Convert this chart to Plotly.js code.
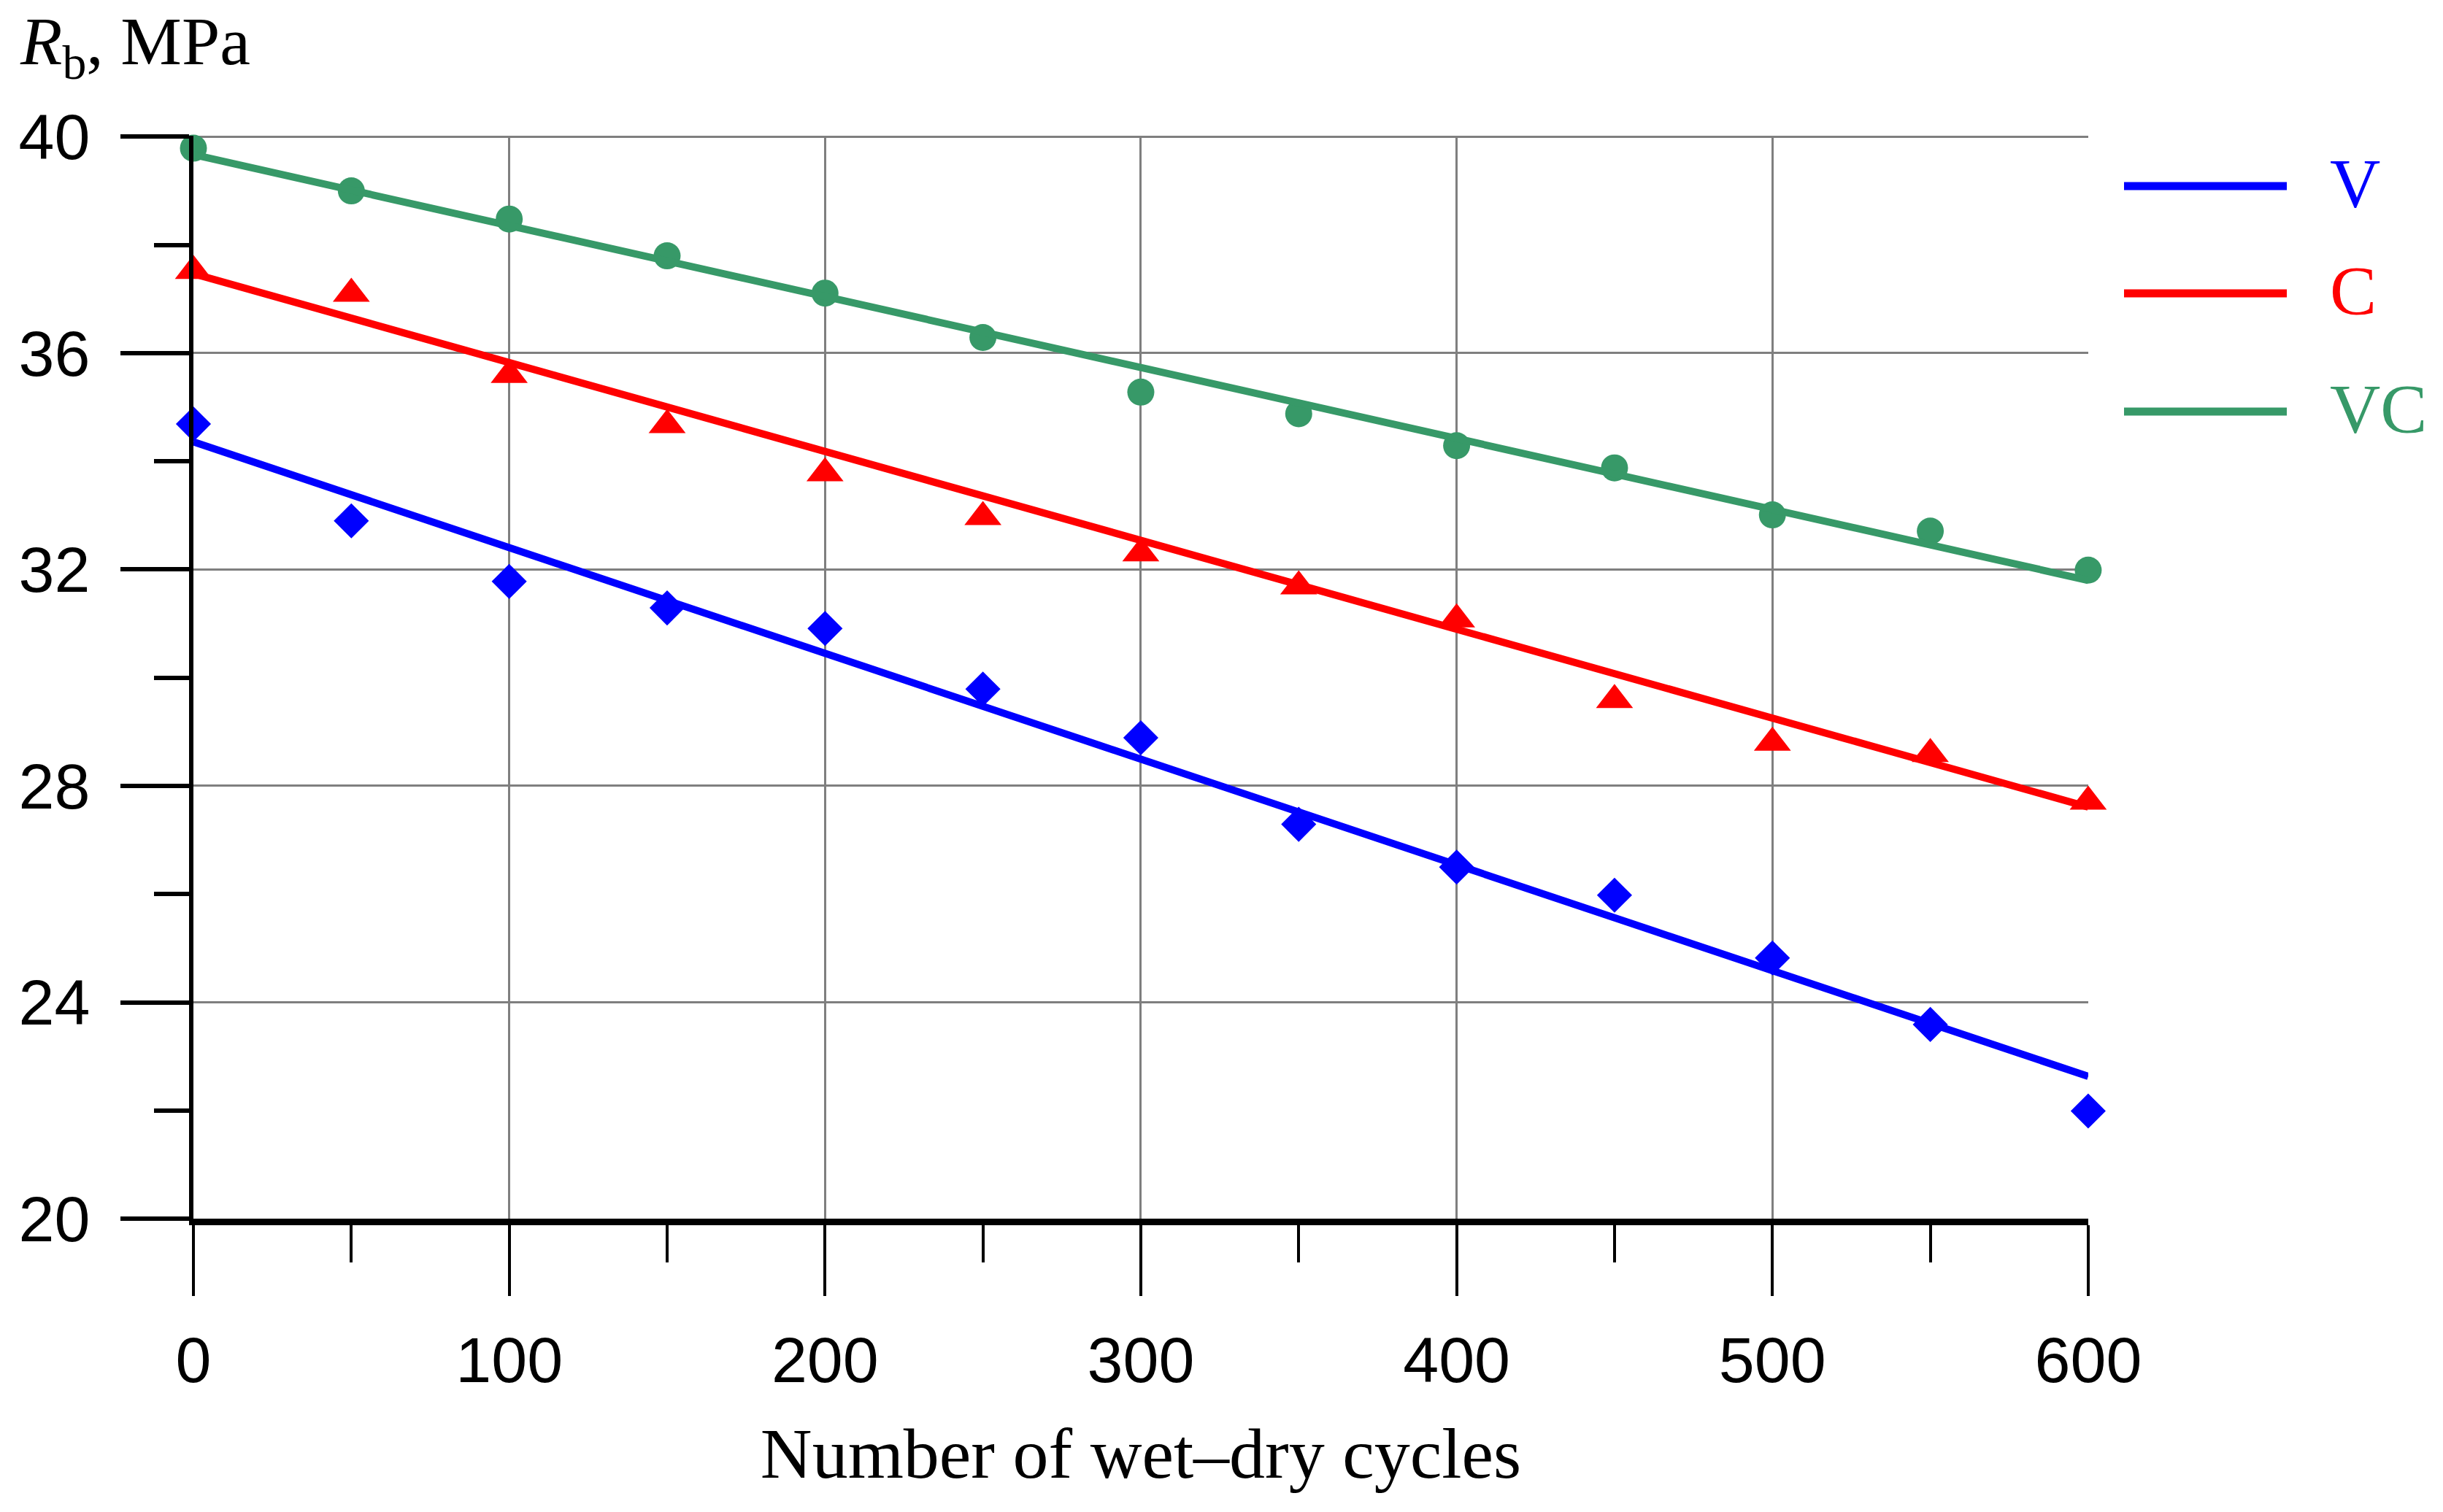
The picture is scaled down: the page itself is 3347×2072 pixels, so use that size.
<!DOCTYPE html>
<html>
<head>
<meta charset="utf-8">
<script src="https://cdn.plot.ly/plotly-3.0.1.min.js"></script>
<style>
  html, body { margin: 0; padding: 0; background: #ffffff; }
  #chart { width: 3347px; height: 2072px; }
</style>
</head>
<body>
<div id="chart"></div>
<script>
// wet-dry cycles on the x axis
const cycles = [0, 50, 100, 150, 200, 250, 300, 350, 400, 450, 500, 550, 600];

// measured strength Rb, MPa
const strengthV  = [34.69, 32.90, 31.78, 31.29, 30.91, 29.79, 28.89, 27.29, 26.50, 25.98, 24.82, 23.59, 21.99];
const strengthC  = [37.52, 37.10, 35.60, 34.67, 33.78, 32.97, 32.30, 31.69, 31.08, 29.59, 28.80, 28.59, 27.71];
const strengthVC = [39.79, 39.00, 38.48, 37.80, 37.11, 36.29, 35.28, 34.88, 34.29, 33.88, 33.01, 32.71, 31.99];

// linear trend lines, end points
const fitX  = [0, 600];
const fitV  = [34.36, 22.63];
const fitC  = [37.47, 27.61];
const fitVC = [39.67, 31.80];

const seriesNames = ["V", "C", "VC"];

const blue = "#0000ff";
const red = "#ff0000";
const green = "#379968";

function markerTrace(y, symbol, size, color) {
    return {
        x: cycles,
        y: y,
        mode: "markers",
        type: "scatter",
        cliponaxis: false,
        showlegend: false,
        marker: {symbol: symbol, size: size, color: color, line: {width: 0}}
    };
}

function fitTrace(y, color, name) {
    return {
        x: fitX,
        y: y,
        mode: "lines",
        type: "scatter",
        name: name,
        cliponaxis: false,
        showlegend: false,
        line: {color: color, width: 10}
    };
}

const data = [
    markerTrace(strengthVC, "circle", 37, green),
    markerTrace(strengthC, "triangle-up", 44, red),
    markerTrace(strengthV, "diamond", 37, blue),
    fitTrace(fitVC, green, seriesNames[2]),
    fitTrace(fitC, red, seriesNames[1]),
    fitTrace(fitV, blue, seriesNames[0])
];

// hand drawn legend to the right of the plot (long line samples)
const legendColors = [blue, red, green];
const legendY = [255, 402, 564];
const shapes = [];
const annotations = [];
for (let i = 0; i < seriesNames.length; i++) {
    shapes.push({
        type: "line", xref: "paper", yref: "paper",
        x0: (2910 - 265) / 2596, x1: (3133 - 265) / 2596,
        y0: (1670 - legendY[i]) / 1484, y1: (1670 - legendY[i]) / 1484,
        line: {color: legendColors[i], width: 11}
    });
    annotations.push({
        xref: "paper", yref: "paper",
        x: (3190 - 265) / 2596, y: (1670 - legendY[i] + 4) / 1484,
        xanchor: "left", yanchor: "middle",
        showarrow: false,
        text: seriesNames[i],
        font: {family: "Liberation Serif", size: 96, color: legendColors[i]}
    });
}

// axis caption above the y axis
annotations.push({
    xref: "paper", yref: "paper",
    x: -240 / 2596, y: (1670 - 2) / 1484,
    xanchor: "left", yanchor: "top",
    showarrow: false,
    text: "<i>R</i><sub>b</sub>, MPa",
    font: {family: "Liberation Serif", size: 94, color: "#000000"}
});

const layout = {
    width: 3347,
    height: 2072,
    margin: {l: 265, r: 486, t: 186, b: 402},
    paper_bgcolor: "#ffffff",
    plot_bgcolor: "#ffffff",
    showlegend: false,
    font: {family: "Liberation Sans", color: "#000000"},
    xaxis: {
        range: [0, 600.02],
        tickmode: "array",
        tickvals: [0, 100, 200, 300, 400, 500, 600],
        ticks: "outside",
        ticklen: 97,
        tickwidth: 4,
        tickcolor: "#000000",
        ticklabelstandoff: 12,
        tickfont: {family: "Liberation Sans", size: 88, color: "#000000"},
        showgrid: true,
        gridcolor: "#7f7f7f",
        gridwidth: 3,
        zeroline: false,
        showline: true,
        linecolor: "#000000",
        linewidth: 9,
        minor: {dtick: 50, ticks: "outside", ticklen: 51, tickwidth: 4, tickcolor: "#000000", showgrid: false},
        title: {
            text: "Number of wet\u2013dry cycles",
            standoff: 48,
            font: {family: "Liberation Serif", size: 98, color: "#000000"}
        }
    },
    yaxis: {
        range: [20, 40.02],
        tickmode: "array",
        tickvals: [20, 24, 28, 32, 36, 40],
        ticks: "outside",
        ticklen: 94,
        tickwidth: 6,
        tickcolor: "#000000",
        ticklabelstandoff: 24,
        tickfont: {family: "Liberation Sans", size: 88, color: "#000000"},
        showgrid: true,
        gridcolor: "#7f7f7f",
        gridwidth: 3,
        zeroline: false,
        showline: true,
        linecolor: "#000000",
        linewidth: 6,
        minor: {dtick: 2, ticks: "outside", ticklen: 48, tickwidth: 6, tickcolor: "#000000", showgrid: false}
    },
    shapes: shapes,
    annotations: annotations
};

Plotly.newPlot("chart", data, layout, {displayModeBar: false, staticPlot: true});
</script>
</body>
</html>
